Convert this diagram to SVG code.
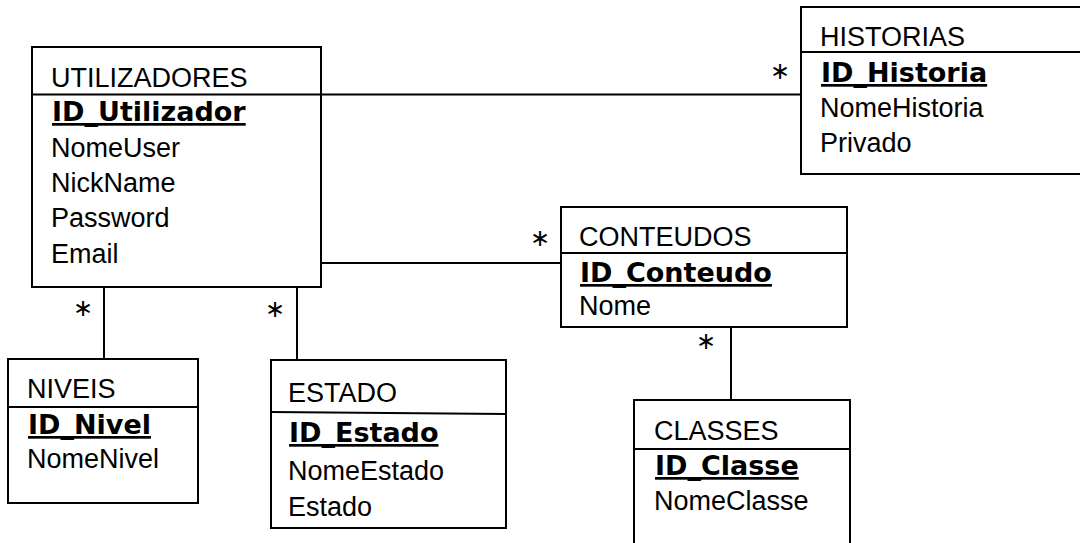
<svg xmlns="http://www.w3.org/2000/svg" width="1080" height="543" viewBox="0 0 1080 543">
<style>
.box{fill:#fff;stroke:#000;stroke-width:2}
.sep{stroke:#000;stroke-width:2}
.con{stroke:#000;stroke-width:2;fill:none}
.t{font-family:"Liberation Sans",Arial,sans-serif;font-size:27px;fill:#000}
.k{font-family:"DejaVu Sans",Verdana,sans-serif;font-weight:bold;font-size:27px;fill:#000;text-decoration:underline}
.m{font-family:"DejaVu Sans",sans-serif;font-size:24px;fill:#000;text-anchor:middle}
</style>
<rect width="1080" height="543" fill="#fff"/>
<g id="connectors">
<line class="con" x1="321" y1="94.5" x2="801" y2="94.5"/>
<line class="con" x1="321" y1="263" x2="561" y2="263"/>
<line class="con" x1="104" y1="287" x2="104" y2="359"/>
<line class="con" x1="297" y1="287" x2="297" y2="360"/>
<line class="con" x1="731" y1="327" x2="731" y2="400"/>
<text class="m" x="780" y="79">∗</text>
<text class="m" x="540" y="246">∗</text>
<text class="m" x="706" y="349">∗</text>
<text class="m" x="83" y="316">∗</text>
<text class="m" x="275" y="317">∗</text>
</g>
<g id="utilizadores">
<rect class="box" x="32" y="47" width="289" height="240"/>
<line class="sep" x1="32" y1="94.5" x2="321" y2="94.5"/>
<text class="t" x="51" y="87">UTILIZADORES</text>
<text class="k" x="52" y="121">ID_Utilizador</text>
<text class="t" x="51" y="157">NomeUser</text>
<text class="t" x="51" y="192">NickName</text>
<text class="t" x="51" y="227">Password</text>
<text class="t" x="51" y="263">Email</text>
</g>
<g id="historias">
<rect class="box" x="801" y="7" width="300" height="167"/>
<line class="sep" x1="801" y1="52" x2="1080" y2="52"/>
<text class="t" x="820" y="46">HISTORIAS</text>
<text class="k" x="821" y="82">ID_Historia</text>
<text class="t" x="820" y="117">NomeHistoria</text>
<text class="t" x="820" y="152">Privado</text>
</g>
<g id="conteudos">
<rect class="box" x="561" y="207" width="286" height="120"/>
<line class="sep" x1="561" y1="253" x2="847" y2="253"/>
<text class="t" x="579" y="246">CONTEUDOS</text>
<text class="k" x="580" y="282">ID_Conteudo</text>
<text class="t" x="579" y="315">Nome</text>
</g>
<g id="niveis">
<rect class="box" x="8" y="359" width="190" height="144"/>
<line class="sep" x1="8" y1="407" x2="198" y2="407"/>
<text class="t" x="27" y="398">NIVEIS</text>
<text class="k" x="28" y="434">ID_Nivel</text>
<text class="t" x="27" y="468">NomeNivel</text>
</g>
<g id="estado">
<rect class="box" x="271" y="360" width="235" height="168"/>
<line class="sep" x1="271" y1="412" x2="506" y2="414"/>
<text class="t" x="288" y="402">ESTADO</text>
<text class="k" x="289" y="442">ID_Estado</text>
<text class="t" x="288" y="480">NomeEstado</text>
<text class="t" x="288" y="516">Estado</text>
</g>
<g id="classes">
<rect class="box" x="634" y="400" width="216" height="200"/>
<line class="sep" x1="634" y1="449" x2="850" y2="449"/>
<text class="t" x="654" y="440">CLASSES</text>
<text class="k" x="655" y="475">ID_Classe</text>
<text class="t" x="654" y="510">NomeClasse</text>
</g>
</svg>
